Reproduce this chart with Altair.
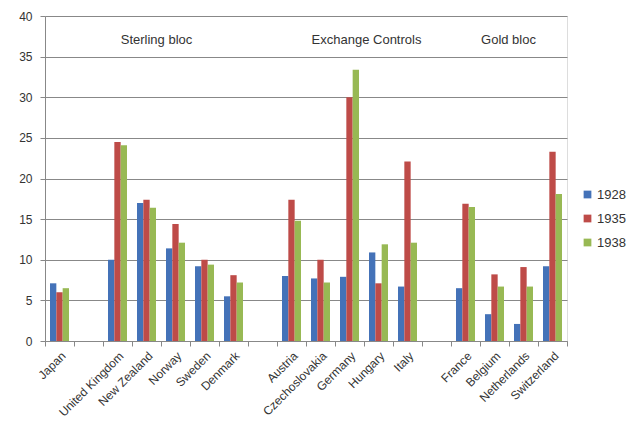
import altair as alt
import pandas as pd

countries = ["Japan", " ", "United Kingdom", "New Zealand", "Norway", "Sweden", "Denmark", "  ",
             "Austria", "Czechoslovakia", "Germany", "Hungary", "Italy", "   ",
             "France", "Belgium", "Netherlands", "Switzerland"]
real = ["Japan", "United Kingdom", "New Zealand", "Norway", "Sweden", "Denmark",
        "Austria", "Czechoslovakia", "Germany", "Hungary", "Italy",
        "France", "Belgium", "Netherlands", "Switzerland"]
v1928 = [7.1, 10.0, 17.0, 11.4, 9.2, 5.5, 8.0, 7.7, 7.9, 10.9, 6.7, 6.5, 3.3, 2.1, 9.2]
v1935 = [6.0, 24.5, 17.4, 14.4, 10.0, 8.1, 17.4, 10.0, 30.0, 7.1, 22.1, 16.9, 8.2, 9.1, 23.3]
v1938 = [6.5, 24.1, 16.4, 12.1, 9.4, 7.2, 14.8, 7.2, 33.4, 11.9, 12.1, 16.5, 6.7, 6.7, 18.1]
years = ["1928", "1935", "1938"]
colors = ["#4472B8", "#BE4B48", "#98B954"]

groups = ["Sterling bloc", "Exchange Controls", "Gold bloc"]
group_anchor = ["New Zealand", "Germany", "Belgium"]
group_dx = [10, 17, 14]
group_y = [37.1, 37.1, 37.1]

rows = []
for i, c in enumerate(real):
    for y, vals in zip(years, [v1928, v1935, v1938]):
        rows.append({"country": c, "year": y, "value": vals[i]})
df = pd.DataFrame(rows)

x_scale = alt.Scale(domain=countries, paddingInner=0, paddingOuter=0)

bars = alt.Chart(df).mark_bar().encode(
    x=alt.X("country:N", scale=x_scale, sort=countries, title=None,
            axis=alt.Axis(labelAngle=-45, tickBand="extent", labelFontSize=12,
                          labelColor="#333", domainColor="#888", tickColor="#888",
                          tickSize=5, labelPadding=4)),
    xOffset=alt.XOffset("year:N", scale=alt.Scale(paddingInner=0, paddingOuter=0.79)),
    y=alt.Y("value:Q", scale=alt.Scale(domain=[0, 40]), title=None,
            axis=alt.Axis(values=list(range(0, 41, 5)), labelFontSize=12, labelColor="#333",
                          domainColor="#888", tickColor="#888", gridColor="#888",
                          tickSize=5, labelPadding=8)),
    color=alt.Color("year:N", scale=alt.Scale(domain=years, range=colors),
                    legend=alt.Legend(title=None, orient="none", legendX=536, legendY=172,
                                      symbolType="square", symbolSize=60, labelFontSize=13,
                                      labelColor="#333", rowPadding=10, symbolStrokeWidth=0,
                                      labelOffset=3)),
)

texts = []
for g, a, dx, gy in zip(groups, group_anchor, group_dx, group_y):
    tdf = pd.DataFrame({"country": [a], "label": [g], "y": [gy]})
    texts.append(alt.Chart(tdf).mark_text(fontSize=13, dx=dx, color="#333").encode(
        x=alt.X("country:N", scale=x_scale, sort=countries),
        y=alt.Y("y:Q"),
        text="label:N"))

chart = alt.layer(bars, *texts).properties(
    width=522, height=325, padding={"left": 10, "top": 2, "right": 5, "bottom": 5}
).configure_view(stroke=None).configure(font="Liberation Sans")

chart.save("out.html", embed_options={"renderer": "svg", "actions": False})
